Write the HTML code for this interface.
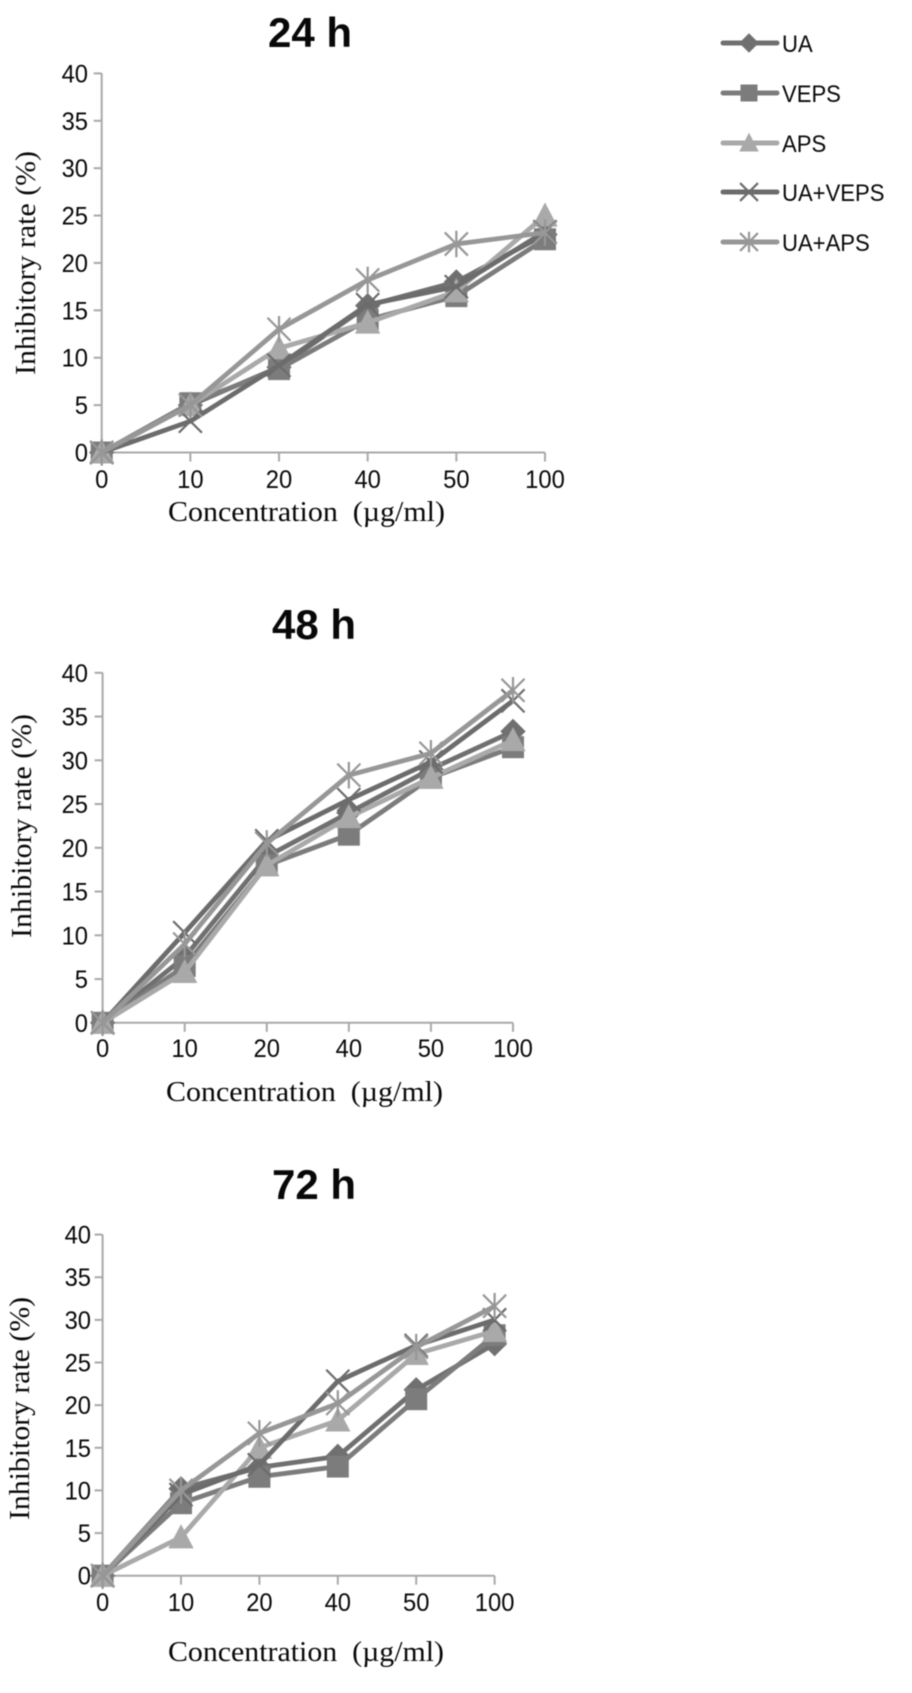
<!DOCTYPE html>
<html lang="en">
<head>
<meta charset="utf-8">
<title>Inhibitory rate over time</title>
<style>
  html, body { margin: 0; padding: 0; background: #fff; }
  #figure { display: block; width: 912px; height: 1693px; filter: blur(0.55px); }
  text { fill: #080808; }
  .tick { font-family: "Liberation Sans", sans-serif; font-size: 25px; }
  .axis-title { font-family: "Liberation Serif", serif; font-size: 28px; }
  .panel-title { font-family: "Liberation Sans", sans-serif; font-size: 42px; font-weight: bold; }
  .legend-label { font-family: "Liberation Sans", sans-serif; font-size: 24px; }
</style>
</head>
<body>
<svg id="figure" xmlns="http://www.w3.org/2000/svg" width="912" height="1693" viewBox="0 0 912 1693"></svg>
<script>
const categories = ["0", "10", "20", "40", "50", "100"];
const yTickValues = [0, 5, 10, 15, 20, 25, 30, 35, 40];
const seriesNames = ["UA", "VEPS", "APS", "UA+VEPS", "UA+APS"];
const panelTitles = ["24 h", "48 h", "72 h"];

const ua24 = [0, 5, 9, 15.5, 18, 23];
const veps24 = [0, 5.2, 8.8, 14, 16.5, 22.5];
const aps24 = [0, 5, 11, 13.7, 17, 25];
const uaVeps24 = [0, 3.3, 9.2, 15.6, 17.5, 23.3];
const uaAps24 = [0, 5, 13, 18.2, 22, 23.2];

const ua48 = [0, 7.5, 19, 24, 29, 33.3];
const veps48 = [0, 6.5, 18, 21.5, 28, 31.5];
const aps48 = [0, 5.8, 18, 23.5, 28, 32.3];
const uaVeps48 = [0, 10.3, 20.8, 25.5, 29.8, 36.8];
const uaAps48 = [0, 9, 20.5, 28.3, 30.8, 38];

const ua72 = [0, 10.2, 12.7, 14, 21.8, 27.2];
const veps72 = [0, 8.5, 11.6, 12.8, 20.7, 28.2];
const aps72 = [0, 4.5, 15, 18.2, 26, 28.7];
const uaVeps72 = [0, 9.5, 13, 22.8, 27, 30];
const uaAps72 = [0, 10, 16.7, 20.2, 26.8, 31.6];

const panelValues = [
  [ua24, veps24, aps24, uaVeps24, uaAps24],
  [ua48, veps48, aps48, uaVeps48, uaAps48],
  [ua72, veps72, aps72, uaVeps72, uaAps72]
];

const layouts = [
  { left: 101.7, right: 545, top: 73.4, bottom: 452.5, titleX: 310, titleY: 47, tickY: 488, yTickRight: 88, xTitleLeft: 168, xTitleRight: 445, xTitleY: 521, yTitleX: 35, yTitleTop: 151, yTitleBottom: 375 },
  { left: 102.6, right: 513, top: 672.8, bottom: 1022.8, titleX: 314, titleY: 639, tickY: 1057, yTickRight: 88, xTitleLeft: 166, xTitleRight: 443, xTitleY: 1101, yTitleX: 31, yTitleTop: 714, yTitleBottom: 938 },
  { left: 102.6, right: 494.6, top: 1234.6, bottom: 1575.7, titleX: 314, titleY: 1199, tickY: 1611, yTickRight: 91, xTitleLeft: 168, xTitleRight: 444, xTitleY: 1661, yTitleX: 29, yTitleTop: 1297, yTitleBottom: 1520 }
];

const seriesColors = ["#707070", "#7c7c7c", "#a9a9a9", "#6c6c6c", "#979797"];
const markerKinds = ["diamond", "square", "triangle", "cross", "star"];

const NS = "http://www.w3.org/2000/svg";
const root = document.getElementById("figure");

function make(parent, tag) {
  const el = document.createElementNS(NS, tag);
  parent.appendChild(el);
  return el;
}
function slug(name) {
  return name.toLowerCase().replace(/\+/g, "-");
}
function narrow(el, factor) {
  el.setAttribute("textLength", el.getComputedTextLength() * factor);
  el.setAttribute("lengthAdjust", "spacingAndGlyphs");
}
function drawStroke(parent, x1, y1, x2, y2, color, width) {
  const el = make(parent, "line");
  el.setAttribute("x1", x1);
  el.setAttribute("y1", y1);
  el.setAttribute("x2", x2);
  el.setAttribute("y2", y2);
  el.setAttribute("stroke", color);
  el.setAttribute("stroke-width", width);
  return el;
}
function drawMarker(parent, kind, cx, cy, color, size) {
  const r = size / 2;
  if (kind === "square") {
    const s = make(parent, "rect");
    s.setAttribute("x", cx - r);
    s.setAttribute("y", cy - r);
    s.setAttribute("width", size);
    s.setAttribute("height", size);
    s.setAttribute("fill", color);
    return s;
  }
  if (kind === "diamond" || kind === "triangle") {
    const p = make(parent, "polygon");
    const pts = kind === "diamond"
      ? [[cx, cy - r * 1.15], [cx + r * 1.15, cy], [cx, cy + r * 1.15], [cx - r * 1.15, cy]]
      : [[cx, cy - r * 1.2], [cx + r * 1.15, cy + r], [cx - r * 1.15, cy + r]];
    p.setAttribute("points", pts.map(function (q) { return q.join(","); }).join(" "));
    p.setAttribute("fill", color);
    return p;
  }
  const g = make(parent, "g");
  const w = r * 1.05;
  drawStroke(g, cx - w, cy - w, cx + w, cy + w, color, 2.2);
  drawStroke(g, cx - w, cy + w, cx + w, cy - w, color, 2.2);
  if (kind === "star") {
    drawStroke(g, cx, cy - w * 1.15, cx, cy + w * 1.15, color, 2.2);
  }
  return g;
}

function drawPanel(panelIndex) {
  const box = layouts[panelIndex];
  const values = panelValues[panelIndex];
  const maxY = yTickValues[yTickValues.length - 1];
  const xScale = function (i) {
    return box.left + (box.right - box.left) * i / (categories.length - 1);
  };
  const yScale = function (v) {
    return box.bottom - (box.bottom - box.top) * v / maxY;
  };
  const hour = panelTitles[panelIndex].replace(" ", "");

  const panel = make(root, "g");
  
  

  const title = make(panel, "text");
  
  
  title.setAttribute("class", "panel-title");
  title.setAttribute("x", box.titleX);
  title.setAttribute("y", box.titleY);
  title.setAttribute("text-anchor", "middle");
  title.textContent = panelTitles[panelIndex];

  const yAxis = drawStroke(panel, box.left, box.top, box.left, box.bottom, "#a9a9a9", 2);
  
  
  const xAxis = drawStroke(panel, box.left, box.bottom, box.right, box.bottom, "#a9a9a9", 2);
  
  

  yTickValues.forEach(function (v) {
    const mark = drawStroke(panel, box.left - 8, yScale(v), box.left, yScale(v), "#a9a9a9", 2);
    
    
    const label = make(panel, "text");
    
    
    label.setAttribute("class", "tick");
    label.setAttribute("x", box.yTickRight);
    label.setAttribute("y", yScale(v) + 9);
    label.setAttribute("text-anchor", "end");
    label.textContent = String(v);
    narrow(label, 0.95);
  });

  categories.forEach(function (c, i) {
    const mark = drawStroke(panel, xScale(i), box.bottom, xScale(i), box.bottom + 9, "#a9a9a9", 2);
    
    
    const label = make(panel, "text");
    
    
    label.setAttribute("class", "tick");
    label.setAttribute("x", xScale(i));
    label.setAttribute("y", box.tickY);
    label.setAttribute("text-anchor", "middle");
    label.textContent = c;
    narrow(label, 0.95);
  });

  const xTitle = make(panel, "text");
  
  
  xTitle.setAttribute("class", "axis-title");
  xTitle.setAttribute("x", box.xTitleLeft);
  xTitle.setAttribute("y", box.xTitleY);
  xTitle.setAttribute("textLength", box.xTitleRight - box.xTitleLeft);
  xTitle.setAttribute("lengthAdjust", "spacingAndGlyphs");
  xTitle.textContent = "Concentration  (\u00b5g/ml)";
  xTitle.style.whiteSpace = "pre";

  const yTitle = make(panel, "text");
  
  
  yTitle.setAttribute("class", "axis-title");
  yTitle.setAttribute("transform", "translate(" + box.yTitleX + "," + box.yTitleBottom + ") rotate(-90)");
  yTitle.setAttribute("textLength", box.yTitleBottom - box.yTitleTop);
  yTitle.setAttribute("lengthAdjust", "spacingAndGlyphs");
  yTitle.textContent = "Inhibitory rate (%)";

  seriesNames.forEach(function (name, s) {
    const group = make(panel, "g");
    
    
    const line = make(group, "polyline");
    
    
    line.setAttribute("points", values[s].map(function (v, i) {
      return xScale(i) + "," + yScale(v);
    }).join(" "));
    line.setAttribute("fill", "none");
    line.setAttribute("stroke", seriesColors[s]);
    line.setAttribute("stroke-width", 4.8);
    values[s].forEach(function (v, i) {
      const marker = drawMarker(group, markerKinds[s], xScale(i), yScale(v), seriesColors[s], 22);
      
      
    });
  });
}

function drawLegend() {
  const legend = make(root, "g");
  
  
  const lineYs = [43, 93, 143, 192, 242];
  seriesNames.forEach(function (name, s) {
    const entry = make(legend, "g");
    
    
    const key = drawStroke(entry, 723, lineYs[s], 777, lineYs[s], seriesColors[s], 5);
    key.setAttribute("stroke-linecap", "round");
    
    
    const marker = drawMarker(entry, markerKinds[s], 749, lineYs[s], seriesColors[s], 17);
    
    
    const label = make(entry, "text");
    
    
    label.setAttribute("class", "legend-label");
    label.setAttribute("x", 782);
    label.setAttribute("y", lineYs[s] + 9);
    label.textContent = name;
    narrow(label, 0.92);
  });
}

panelTitles.forEach(function (t, i) { drawPanel(i); });
drawLegend();
</script>
</body>
</html>
